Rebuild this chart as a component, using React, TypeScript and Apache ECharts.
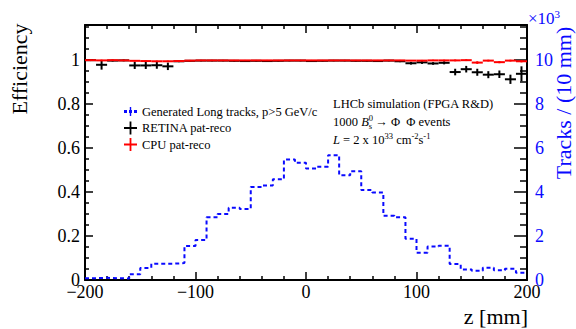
import React, { useEffect, useRef } from "react";
import * as echarts from "echarts";

const FONT = '"Liberation Serif", "Times New Roman", serif';
const BLUE = "#0a0aff";

// bin centres (mm), bins are 10 mm wide
const zCenters = [
  -195, -185, -175, -165, -155, -145, -135, -125, -115, -105,
  -95, -85, -75, -65, -55, -45, -35, -25, -15, -5,
  5, 15, 25, 35, 45, 55, 65, 75, 85, 95,
  105, 115, 125, 135, 145, 155, 165, 175, 185, 195,
];

// Generated long tracks per 10 mm (x10^3)
const generated = [
  0.08, 0.1, 0.08, 0.07, 0.26, 0.55, 0.74, 0.74, 0.77, 1.55,
  1.82, 2.85, 3.0, 3.29, 3.23, 4.23, 4.3, 4.58, 5.48, 5.33,
  5.07, 5.15, 5.68, 4.76, 4.95, 4.09, 3.98, 2.92, 2.85, 1.88,
  1.24, 1.52, 1.56, 0.73, 0.48, 0.42, 0.56, 0.44, 0.51, 0.33,
];

// RETINA pat-reco efficiency and its error
const retina = [
  1.0, 0.979, 0.998, 0.999, 0.976, 0.976, 0.977, 0.972, 0.995, 0.997,
  0.998, 0.998, 0.998, 0.997, 0.996, 0.997, 0.996, 0.997, 0.998, 0.998,
  0.996, 0.997, 0.998, 0.998, 0.997, 0.997, 0.996, 0.998, 0.995, 0.986,
  0.99, 0.985, 0.988, 0.946, 0.959, 0.945, 0.934, 0.936, 0.913, 0.938,
];
const retinaErr = [
  0.004, 0.022, 0.004, 0.004, 0.016, 0.016, 0.016, 0.017, 0.004, 0.003,
  0.003, 0.003, 0.003, 0.003, 0.003, 0.003, 0.003, 0.003, 0.003, 0.003,
  0.003, 0.003, 0.003, 0.003, 0.003, 0.003, 0.003, 0.003, 0.004, 0.006,
  0.007, 0.006, 0.007, 0.015, 0.015, 0.016, 0.016, 0.017, 0.021, 0.034,
];

// CPU pat-reco efficiency and its error
const cpu = [
  1.0, 0.999, 1.0, 0.999, 0.997, 0.996, 0.995, 0.995, 0.996, 0.998,
  0.999, 0.999, 0.999, 0.999, 0.999, 0.999, 0.999, 0.999, 0.999, 0.999,
  0.999, 0.999, 0.999, 0.999, 0.999, 0.999, 0.999, 0.999, 0.999, 0.998,
  0.998, 0.999, 0.999, 0.999, 1.0, 0.989, 0.998, 0.991, 0.998, 0.995,
];
const cpuErr = [
  0.003, 0.003, 0.003, 0.003, 0.003, 0.003, 0.003, 0.003, 0.003, 0.003,
  0.002, 0.002, 0.002, 0.002, 0.002, 0.002, 0.002, 0.002, 0.002, 0.002,
  0.002, 0.002, 0.002, 0.002, 0.002, 0.002, 0.002, 0.002, 0.002, 0.002,
  0.003, 0.003, 0.003, 0.004, 0.004, 0.006, 0.004, 0.005, 0.004, 0.005,
];

const xTicks = { min: -200, max: 200, interval: 100 };
const effTicks = { min: 0, max: 1.16, interval: 0.2 };
const trkTicks = { min: 0, max: 11.6, interval: 2 };

const HALF_BIN = 5;
const NAME_GEN = "Generated Long tracks, p>5 GeV/c";
const NAME_RETINA = "RETINA pat-reco";
const NAME_CPU = "CPU pat-reco";

function crossRenderer(color: string) {
  return (params: any, api: any) => {
    const z = api.value(0);
    const e = api.value(1);
    const err = api.value(2);
    const pL = api.coord([z - HALF_BIN, e]);
    const pR = api.coord([z + HALF_BIN, e]);
    const pT = api.coord([z, e + err]);
    const pB = api.coord([z, e - err]);
    return {
      type: "group",
      children: [
        {
          type: "line",
          shape: { x1: pL[0], y1: pL[1], x2: pR[0], y2: pR[1] },
          style: { stroke: color, lineWidth: 2 },
        },
        {
          type: "line",
          shape: { x1: pT[0], y1: pT[1], x2: pB[0], y2: pB[1] },
          style: { stroke: color, lineWidth: 2 },
        },
      ],
    };
  };
}

const minusFmt = (v: number) => (v < 0 ? "\u2212" + Math.abs(v) : String(v));

export default function App() {
  const ref = useRef<HTMLDivElement>(null);

  useEffect(() => {
    if (!ref.current) return;
    const chart = echarts.init(ref.current, null, { renderer: "svg" });

    const histData: number[][] = zCenters.map((z, i) => [z - HALF_BIN, generated[i]]);
    histData.push([zCenters[zCenters.length - 1] + HALF_BIN, generated[generated.length - 1]]);

    const axisLine = { show: true, onZero: false, lineStyle: { color: "#000", width: 2 } };
    const tickStyle = { color: "#000", width: 1.5 };

    const option: any = {
      animation: false,
      grid: { left: 85, right: 49, top: 25, bottom: 49, show: false, containLabel: false, outerBoundsMode: "none" },
      xAxis: [
        {
          type: "value",
          position: "bottom",
          ...xTicks,
          axisLine,
          axisTick: { show: true, inside: true, length: 8, lineStyle: tickStyle },
          minorTick: { show: true, splitNumber: 5, length: 4, lineStyle: tickStyle },
          axisLabel: { fontFamily: FONT, fontSize: 18, color: "#000", margin: 3, formatter: minusFmt },
          splitLine: { show: false },
        },
        {
          type: "value",
          position: "top",
          ...xTicks,
          axisLine,
          axisTick: { show: true, inside: true, length: 8, lineStyle: tickStyle },
          minorTick: { show: true, splitNumber: 5, length: 4, lineStyle: tickStyle },
          axisLabel: { show: false },
          splitLine: { show: false },
        },
      ],
      yAxis: [
        {
          type: "value",
          position: "left",
          ...effTicks,
          axisLine,
          axisTick: { show: true, inside: true, length: 8, lineStyle: tickStyle },
          minorTick: { show: true, splitNumber: 4, length: 4, lineStyle: tickStyle },
          axisLabel: { fontFamily: FONT, fontSize: 18, color: "#000", margin: 5, showMaxLabel: false },
          splitLine: { show: false },
        },
        {
          type: "value",
          position: "right",
          ...trkTicks,
          axisLine,
          axisTick: { show: true, inside: true, length: 13, lineStyle: tickStyle },
          minorTick: { show: true, splitNumber: 4, length: 7, lineStyle: tickStyle },
          axisLabel: { fontFamily: FONT, fontSize: 18, color: BLUE, margin: 8, showMaxLabel: false },
          splitLine: { show: false },
        },
      ],
      legend: {
        orient: "vertical",
        left: 119,
        top: 100,
        itemWidth: 13,
        itemHeight: 13,
        itemGap: 3.5,
        selectedMode: false,
        textStyle: { fontFamily: FONT, fontSize: 12.5, color: "#000" },
        data: [
          { name: NAME_GEN, icon: "path://M0,5H3V8H0Z M5,5H8V8H5Z M10,5H13V8H10Z M5.8,2H7.2V11H5.8Z" },
          { name: NAME_RETINA, icon: "path://M0,5.6H13V7.4H0Z M5.6,0H7.4V13H5.6Z" },
          { name: NAME_CPU, icon: "path://M0,5.6H13V7.4H0Z M5.6,0H7.4V13H5.6Z" },
        ],
      },
      series: [
        {
          name: NAME_GEN,
          type: "line",
          xAxisIndex: 0,
          yAxisIndex: 1,
          step: "end",
          showSymbol: false,
          symbol: "none",
          data: histData,
          itemStyle: { color: BLUE },
          lineStyle: { color: BLUE, width: 2, type: [4, 3] },
          z: 2,
        },
        {
          name: NAME_RETINA,
          type: "custom",
          xAxisIndex: 0,
          yAxisIndex: 0,
          renderItem: crossRenderer("#000"),
          itemStyle: { color: "#000" },
          encode: { x: 0, y: 1 },
          data: zCenters.map((z, i) => [z, retina[i], retinaErr[i]]),
          z: 3,
        },
        {
          name: NAME_CPU,
          type: "custom",
          xAxisIndex: 0,
          yAxisIndex: 0,
          renderItem: crossRenderer("#ff0000"),
          itemStyle: { color: "#ff0000" },
          encode: { x: 0, y: 1 },
          data: zCenters.map((z, i) => [z, cpu[i], cpuErr[i]]),
          z: 4,
        },
      ],
      graphic: [
        {
          type: "text",
          x: 19,
          y: 69,
          rotation: Math.PI / 2,
          style: { text: "Efficiency", fontFamily: FONT, fontSize: 22, fill: "#000", align: "center", verticalAlign: "middle" },
        },
        {
          type: "text",
          x: 563,
          y: 103,
          rotation: Math.PI / 2,
          style: { text: "Tracks / (10 mm)", fontFamily: FONT, fontSize: 22, fill: BLUE, align: "center", verticalAlign: "middle" },
        },
        {
          type: "text",
          x: 528,
          y: 316,
          style: { text: "z [mm]", fontFamily: FONT, fontSize: 22, fill: "#000", align: "right", verticalAlign: "middle" },
        },
        {
          type: "text",
          x: 528,
          y: 18,
          style: {
            text: "{a|\u00d710}{s|3}",
            align: "left",
            verticalAlign: "middle",
            rich: {
              a: { fontFamily: FONT, fontSize: 17, fill: BLUE, lineHeight: 20 },
              s: { fontFamily: FONT, fontSize: 11, fill: BLUE, lineHeight: 11, verticalAlign: "top" },
            },
          },
        },
        {
          type: "text",
          x: 333,
          y: 103.5,
          style: { text: "LHCb simulation (FPGA R&D)", fontFamily: FONT, fontSize: 12.5, fill: "#000", align: "left", verticalAlign: "middle" },
        },
        {
          type: "text",
          x: 333,
          y: 121.5,
          style: {
            text: "{n|1000 }{i|B}{p|0}{b|s}{n| \u2192 \u03a6  \u03a6 events}",
            align: "left",
            verticalAlign: "middle",
            rich: {
              n: { fontFamily: FONT, fontSize: 12.5, fill: "#000", lineHeight: 17 },
              i: { fontFamily: FONT, fontSize: 12.5, fontStyle: "italic", fill: "#000", lineHeight: 17 },
              p: { fontFamily: FONT, fontSize: 8.5, fill: "#000", lineHeight: 9, verticalAlign: "top", width: 0.1 },
              b: { fontFamily: FONT, fontSize: 8.5, fill: "#000", lineHeight: 9, verticalAlign: "bottom" },
            },
          },
        },
        {
          type: "text",
          x: 333,
          y: 139.5,
          style: {
            text: "{i|L}{n| = 2 x 10}{p|33}{n| cm}{p|-2}{n|s}{p|-1}",
            align: "left",
            verticalAlign: "middle",
            rich: {
              n: { fontFamily: FONT, fontSize: 12.5, fill: "#000", lineHeight: 17 },
              i: { fontFamily: FONT, fontSize: 12.5, fontStyle: "italic", fill: "#000", lineHeight: 17 },
              p: { fontFamily: FONT, fontSize: 8.5, fill: "#000", lineHeight: 9, verticalAlign: "top" },
            },
          },
        },
      ],
    };

    chart.setOption(option);
    return () => chart.dispose();
  }, []);

  return (
    <div
      ref={ref}
      style={{ position: "fixed", left: 0, top: 0, width: 576, height: 329, background: "#fff" }}
    />
  );
}
